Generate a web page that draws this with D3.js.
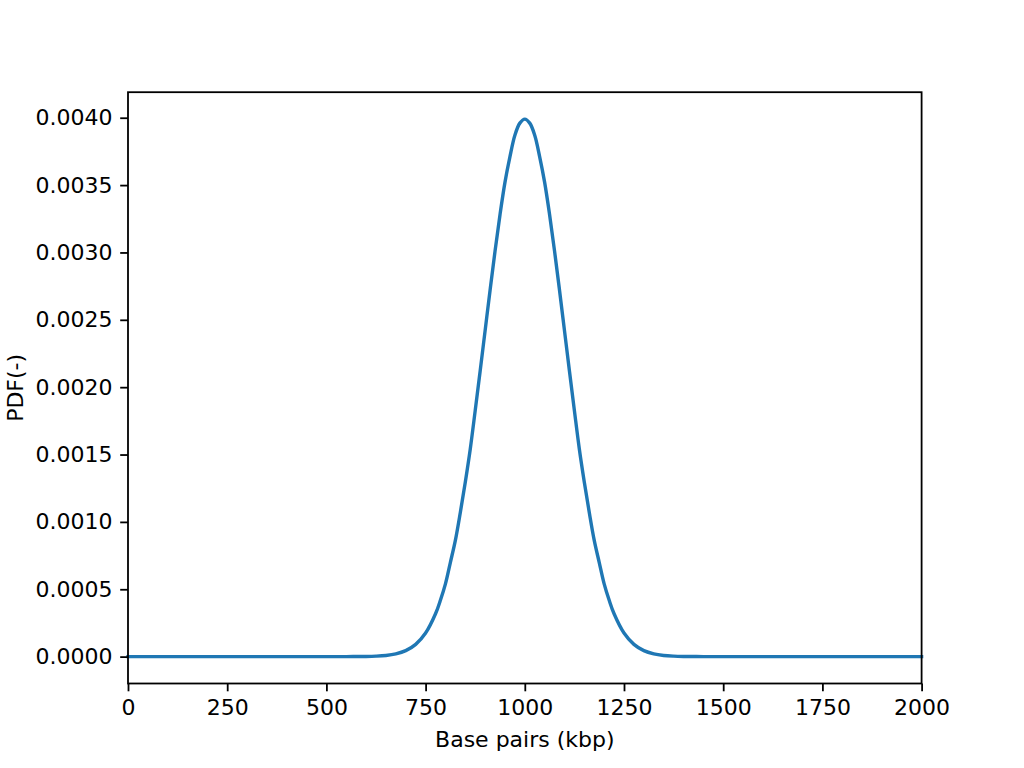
<!DOCTYPE html>
<html><head><meta charset="utf-8">
<script src="https://cdn.jsdelivr.net/npm/d3@7"></script>
<style>body{margin:0;background:#fff}svg{display:block}text{font-family:"DejaVu Sans",sans-serif}</style>
</head><body>
<svg id="c" width="1024" height="768"></svg>
<script>
const xVals = [0,100,200,300,400,500,550,600,625,650,675,700,725,750,775,787.5,800,812.5,825,837.5,850,862.5,875,887.5,900,912.5,925,937.5,950,962.5,975,987.5,1000,1012.5,1025,1037.5,1050,1062.5,1075,1087.5,1100,1112.5,1125,1137.5,1150,1162.5,1175,1187.5,1200,1212.5,1225,1250,1275,1300,1325,1350,1375,1400,1450,1500,1600,1700,1800,1900,2000];
const pdfVals = [0,0,0,0,0,0.0000001,0.0000002,0.0000013,0.0000035,0.0000087,0.0000204,0.0000443,0.0000909,0.000175,0.000318,0.00042,0.00054,0.00070,0.000863,0.00107,0.001295,0.00154,0.001826,0.00212,0.00242,0.00272,0.00301,0.00328,0.00352,0.00371,0.00387,0.00396,0.00399,0.00396,0.00387,0.00371,0.00352,0.00328,0.00301,0.00272,0.00242,0.00212,0.001826,0.00154,0.001295,0.00107,0.000863,0.00070,0.00054,0.00042,0.000318,0.000175,0.0000909,0.0000443,0.0000204,0.0000087,0.0000035,0.0000013,0.0000002,0.0000001,0,0,0,0,0];
const xTicks = [0,250,500,750,1000,1250,1500,1750,2000];
const yTicks = [0,0.0005,0.001,0.0015,0.002,0.0025,0.003,0.0035,0.004];
const xLabel = "Base pairs (kbp)";
const yLabel = "PDF(-)";

const svg = d3.select("#c");
const L=128, R=921.6, T=92.2, B=683.5;
const x = d3.scaleLinear().domain([0,2000]).range([L,R]);
const y = d3.scaleLinear().domain([-0.0001995,0.0041895]).range([B,T]);
const data = xVals.map((v,i)=>({x:v,y:pdfVals[i]}));

const g = svg.append("g");
g.append("path").datum(data)
 .attr("fill","none").attr("stroke","#1f77b4").attr("stroke-width",3.4)
 .attr("stroke-linejoin","round").attr("stroke-linecap","square")
 .attr("d", d3.line().x(d=>x(d.x)).y(d=>y(d.y)).curve(d3.curveCatmullRom.alpha(0.5)));

const xa = svg.append("g").attr("transform",`translate(0,${B})`)
 .call(d3.axisBottom(x).tickValues(xTicks).tickFormat(d3.format("d")).tickSize(7.8).tickPadding(7.8).tickSizeOuter(0));
const ya = svg.append("g").attr("transform",`translate(${L},0)`)
 .call(d3.axisLeft(y).tickValues(yTicks).tickFormat(d3.format(".4f")).tickSize(7.8).tickPadding(7.8).tickSizeOuter(0));
[xa,ya].forEach(a=>{
  a.select(".domain").remove();
  a.selectAll("line").attr("stroke","#000").attr("stroke-width",1.8);
  a.selectAll("text").attr("font-size",22).attr("fill","#000").attr("font-family","DejaVu Sans");
});
svg.append("rect").attr("x",L).attr("y",T).attr("width",R-L).attr("height",B-T)
 .attr("fill","none").attr("stroke","#000").attr("stroke-width",1.8);

svg.append("text").attr("x",(L+R)/2).attr("y",747).attr("text-anchor","middle")
 .attr("font-size",22).text(xLabel);
svg.append("text").attr("transform",`translate(23,${(T+B)/2}) rotate(-90)`).attr("text-anchor","middle")
 .attr("font-size",22).text(yLabel);
</script>
</body></html>
